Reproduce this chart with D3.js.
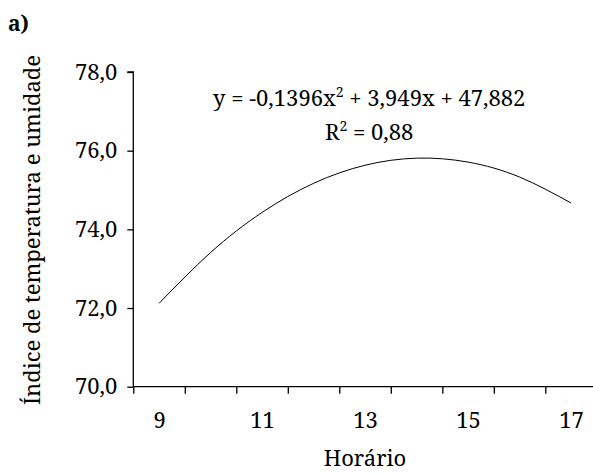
<!DOCTYPE html>
<html><head><meta charset="utf-8">
<script src="https://cdn.jsdelivr.net/npm/d3@7/dist/d3.min.js"></script>
<style>body{margin:0;background:#fff}svg{display:block}</style>
</head><body><svg id="c" width="593" height="474"></svg>
<script>
const hours = [9, 10, 11, 12, 13, 14, 15, 16, 17];
const thi = [72.12, 73.41, 74.43, 75.17, 75.63, 75.81, 75.71, 75.33, 74.67];
const xTickLabels = [9, 11, 13, 15, 17];
const yTicks = [70, 72, 74, 76, 78];
const equationText = "y = -0,1396x";
const equationRest = " + 3,949x + 47,882";
const r2Text = "= 0,88";

const FAM = "'Noto Serif', 'Liberation Serif', serif";
const fs = 22;
const svg = d3.select("#c");
const x = d3.scaleLinear().domain([8.5, 17.5]).range([133.3, 596.8]);
const y = d3.scaleLinear().domain([70, 78]).range([386.7, 72]);
const fmt = v => d3.format(".1f")(v).replace(".", ",");

// y axis
const ya = svg.append("g").attr("transform", `translate(${x(8.5)},0)`)
  .call(d3.axisLeft(y).tickValues(yTicks).tickSize(6).tickPadding(10).tickFormat(fmt));
ya.select(".domain").attr("d", `M-6,${y(78)}H0V${y(70)}`);

// x axis: tick marks at band boundaries
const boundaries = d3.range(8.5, 17.5, 1);
const xa = svg.append("g").attr("transform", `translate(0,${y(70)})`)
  .call(d3.axisBottom(x).tickValues(boundaries).tickSize(7).tickFormat(""));
xa.select(".domain").attr("d", `M${x(8.5)},0H${x(17.5)}`);
const xl = svg.append("g").attr("transform", `translate(0,${y(70)})`)
  .call(d3.axisBottom(x).tickValues(xTickLabels).tickSize(0).tickPadding(26).tickFormat(d => d));
xl.select(".domain").remove();

svg.selectAll(".tick text").style("font-family", FAM).style("font-size", fs + "px").attr("fill", "#000");
svg.selectAll(".domain, .tick line").attr("stroke", "#000").attr("stroke-width", 1.3);

// curve
const line = d3.line().x((d, i) => x(hours[i])).y(d => y(d)).curve(d3.curveNatural);
svg.append("path").datum(thi).attr("d", line).attr("fill", "none").attr("stroke", "#000").attr("stroke-width", 1);

// equation
const eq = svg.append("text").attr("x", 213).attr("y", 106).style("font-family", FAM).style("font-size", fs + "px");
eq.append("tspan").text(equationText);
eq.append("tspan").attr("dy", -9).style("font-size", "14px").text("2");
eq.append("tspan").attr("dy", 9).text(equationRest);
const r2 = svg.append("text").attr("x", 325).attr("y", 140).style("font-family", FAM).style("font-size", fs + "px");
r2.append("tspan").text("R");
r2.append("tspan").attr("dy", -9).style("font-size", "14px").text("2");
r2.append("tspan").attr("dy", 9).text(" " + r2Text);

// axis titles
svg.append("text").attr("x", 365).attr("y", 466).attr("text-anchor", "middle").style("font-family", FAM).style("font-size", fs + "px").text("Horário");
svg.append("text").attr("transform", `translate(40,230) rotate(-90)`).attr("text-anchor", "middle").style("font-family", FAM).style("font-size", fs + "px").text("Índice de temperatura e umidade");

// panel label
svg.append("text").attr("x", 8).attr("y", 31).style("font-family", FAM).style("font-size", "21px").style("font-weight", "bold").text("a)");
</script></body></html>
